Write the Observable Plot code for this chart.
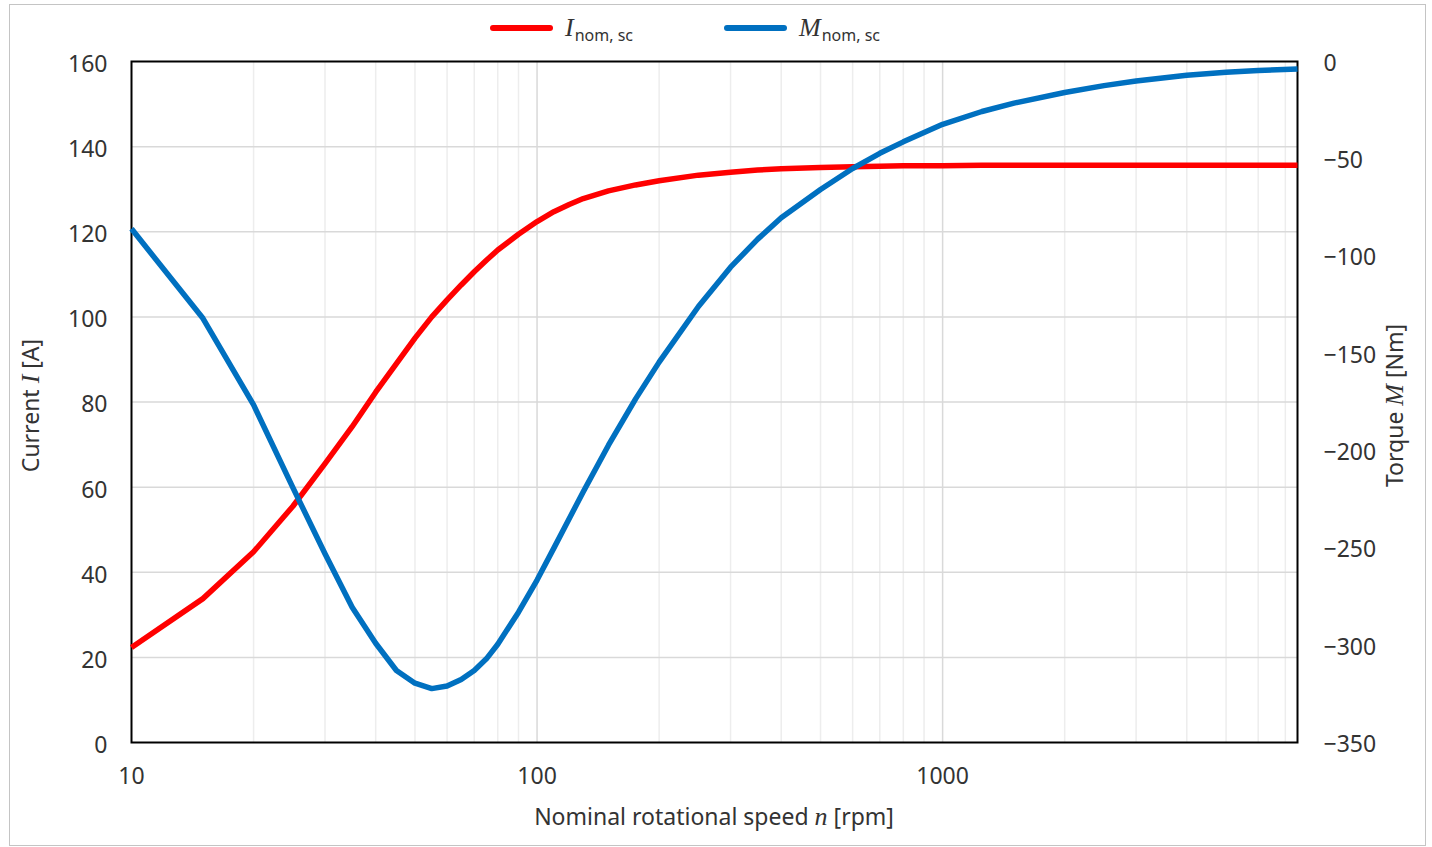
<!DOCTYPE html>
<html>
<head>
<meta charset="utf-8">
<script src="https://cdn.jsdelivr.net/npm/d3@7"></script>
<script src="https://cdn.jsdelivr.net/npm/@observablehq/plot@0.6"></script>
<style>
  html, body { margin: 0; padding: 0; background: #fff; }
  #box {
    position: absolute; left: 9px; top: 4px; width: 1415px; height: 840px;
    border: 1px solid #c4c4c4; background: #fff; overflow: hidden;
  }
  #legend { position: relative; height: 36px; font-family: "Noto Sans", sans-serif; color: #333; z-index: 2; }
  .item { position: absolute; top: 0; height: 46px; display: flex; align-items: center; }
  .sw { width: 63px; height: 6px; border-radius: 3px; margin-right: 12px; }
  .sym { font-family: "Liberation Serif", serif; font-style: italic; font-size: 26px; }
  .sub { font-size: 16px; position: relative; top: 7px; margin-left: 1px; }
  svg { display: block; overflow: visible; }
</style>
</head>
<body>
<div id="box">
  <div id="legend"></div>
  <div id="chart"></div>
</div>
<script>
// ---------- data ----------
const speed   = [10, 15, 20, 25, 30, 35, 40, 45, 50, 55, 60, 65, 70, 75, 80, 90, 100, 110, 120, 130, 150, 175, 200, 250, 300, 350, 400, 500, 600, 700, 800, 1000, 1250, 1500, 2000, 2500, 3000, 4000, 5000, 6000, 7500];
const current = [22.3, 33.8, 44.8, 55.5, 65.5, 74.2, 82.3, 89.0, 95.0, 100.0, 104.0, 107.5, 110.6, 113.3, 115.7, 119.4, 122.4, 124.7, 126.4, 127.8, 129.6, 131.0, 132.0, 133.3, 134.0, 134.5, 134.8, 135.1, 135.3, 135.4, 135.5, 135.5, 135.6, 135.6, 135.6, 135.6, 135.6, 135.6, 135.6, 135.6, 135.6];
const torque  = [-86, -132, -176.5, -219, -253, -280.5, -299, -313, -319.5, -322.3, -321, -317.6, -313, -307, -299.5, -283, -266.5, -250.1, -235.0, -221.1, -197.2, -173.4, -154.5, -125.9, -105.7, -91.3, -80.3, -65.8, -55.0, -47.2, -41.3, -32.3, -25.7, -21.4, -15.9, -12.4, -10.0, -7.1, -5.55, -4.6, -3.8];

const seriesNames = ["I", "M"];
const seriesColors = ["#ff0000", "#0070c0"];
const xTicks = [10, 100, 1000];
const leftTicks = [0, 20, 40, 60, 80, 100, 120, 140, 160];
const rightTicks = [0, -50, -100, -150, -200, -250, -300, -350];
const minorGrid = [20, 30, 40, 50, 60, 70, 80, 90, 200, 300, 400, 500, 600, 700, 800, 900, 2000, 3000, 4000, 5000, 6000, 7000];
const majorGrid = [100, 1000];
const hGrid = [20, 40, 60, 80, 100, 120, 140];

// right axis (torque) mapped onto left scale
const leftMax = 160, rightMin = -350;
const toLeft = m => (m - rightMin) * leftMax / (0 - rightMin);
const fromLeft = v => v * (0 - rightMin) / leftMax + rightMin;
const fmt = d3.format("d");

const data = speed.map((n, i) => ({n, I: current[i], M: torque[i]}));

// ---------- legend ----------
const legend = document.getElementById("legend");
const legendLeft = [480, 714];
seriesNames.forEach((s, i) => {
  const it = document.createElement("div");
  it.className = "item";
  it.style.left = legendLeft[i] + "px";
  it.innerHTML = `<span class="sw" style="background:${seriesColors[i]}"></span><span class="sym">${s}</span><span class="sub">nom, sc</span>`;
  legend.appendChild(it);
});

// ---------- chart ----------
const W = 1415, H = 804;
const mL = 121, mR = 128, mT = 20, mB = 103;
const FS = 23;

const chart = Plot.plot({
  width: W, height: H,
  marginLeft: mL, marginRight: mR, marginTop: mT, marginBottom: mB,
  style: {fontFamily: "Noto Sans", fontSize: FS + "px", color: "#333", background: "transparent", overflow: "visible"},
  x: {type: "log", domain: [10, 7500]},
  y: {domain: [0, leftMax]},
  marks: [
    Plot.ruleX(minorGrid, {stroke: "#ededed", strokeWidth: 1.5}),
    Plot.ruleX(majorGrid, {stroke: "#d9d9d9", strokeWidth: 1.5}),
    Plot.ruleY(hGrid, {stroke: "#d9d9d9", strokeWidth: 1.5}),
    Plot.frame({stroke: "#000", strokeWidth: 2}),
    Plot.line(data, {x: "n", y: "I", stroke: seriesColors[0], strokeWidth: 5.5, strokeLinecap: "butt"}),
    Plot.line(data, {x: "n", y: d => toLeft(d.M), stroke: seriesColors[1], strokeWidth: 5.5, strokeLinecap: "butt"}),
    Plot.axisX(xTicks, {tickSize: 0, tickPadding: 25, tickFormat: d => fmt(d), label: null, fontSize: FS}),
    Plot.axisY(leftTicks, {anchor: "left", tickSize: 0, tickPadding: 24, dy: 3, label: null, fontSize: FS}),
    Plot.axisY(rightTicks.map(toLeft), {anchor: "right", tickSize: 0, tickPadding: 26, dy: 2, label: null, fontSize: FS,
      tickFormat: v => fmt(Math.round(fromLeft(v)))})
  ]
});
document.getElementById("chart").appendChild(chart);

// ---------- axis titles (mixed upright / italic text) ----------
const svg = d3.select(chart);
const tg = svg.append("g").attr("font-family", "Noto Sans").attr("font-size", FS).attr("fill", "#333");
const midX = (mL + (W - mR)) / 2;
const midY = (mT + (H - mB)) / 2 + 4;
const ital = sel => sel.attr("font-family", "Liberation Serif").attr("font-style", "italic").attr("font-size", FS + 3);

const xl = tg.append("text").attr("x", midX).attr("y", H - mB + 83).attr("text-anchor", "middle");
xl.append("tspan").text("Nominal rotational speed ");
ital(xl.append("tspan")).text("n");
xl.append("tspan").text(" [rpm]");

const yl = tg.append("text").attr("transform", `translate(23,${midY}) rotate(-90)`).attr("text-anchor", "middle").attr("dominant-baseline", "middle");
yl.append("tspan").text("Current ");
ital(yl.append("tspan")).text("I");
yl.append("tspan").text(" [A]");

const yr = tg.append("text").attr("transform", `translate(${W - 28},${midY}) rotate(-90)`).attr("text-anchor", "middle").attr("dominant-baseline", "middle");
yr.append("tspan").text("Torque ");
ital(yr.append("tspan")).text("M");
yr.append("tspan").text(" [Nm]");
</script>
</body>
</html>
